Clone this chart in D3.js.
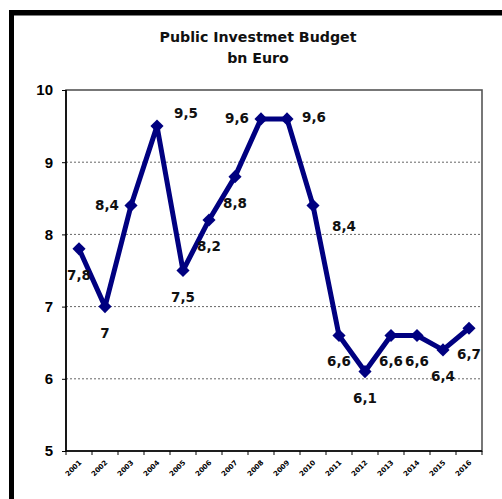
<!DOCTYPE html>
<html>
<head>
<meta charset="utf-8">
<script src="https://cdn.jsdelivr.net/npm/d3@7"></script>
<style>
  body { margin: 0; background: #fff; }
  svg { display: block; font-family: "DejaVu Sans", Verdana, sans-serif; }
  .grid line { stroke: #666; stroke-width: 1; stroke-dasharray: 2,2; }
  .axis text { font-weight: bold; fill: #000; }
  .axis path, .axis line { stroke: #000; }
  .val-label { font-size: 13.5px; font-weight: bold; fill: #111; }
  .title { font-size: 14.2px; font-weight: bold; fill: #111; }
</style>
</head>
<body>
<div id="chart"></div>
<script>
// data
const years = ['2001', '2002', '2003', '2004', '2005', '2006', '2007', '2008',
               '2009', '2010', '2011', '2012', '2013', '2014', '2015', '2016'];
const budget = [7.8, 7, 8.4, 9.5, 7.5, 8.2, 8.8, 9.6, 9.6, 8.4, 6.6, 6.1, 6.6, 6.6, 6.4, 6.7];
const yTicks = [5, 6, 7, 8, 9, 10];
const titleLines = ['Public Investmet Budget', 'bn Euro'];

// where each value label sits relative to its point
const labelSide = ['below', 'below', 'left', 'upright', 'below', 'below', 'below', 'left',
                   'right', 'downright', 'below', 'below', 'below', 'below', 'below', 'below'];
const sideOffset = {
  below: [0, 26], left: [-24, -1], right: [27, -2],
  upright: [29, -13], downright: [31, 20]
};

const width = 502, height = 499;
const margin = {top: 90, right: 20, bottom: 48, left: 66};

const svg = d3.select('#chart').append('svg')
    .attr('width', width)
    .attr('height', height);

// outer frame (only the top and left edges fall inside the picture)
svg.append('rect')
    .attr('x', 9).attr('y', 10)
    .attr('width', 5).attr('height', height)
    .attr('fill', '#000');
svg.append('rect')
    .attr('x', 9).attr('y', 10)
    .attr('width', width).attr('height', 5.5)
    .attr('fill', '#000');

svg.selectAll('.title')
  .data(titleLines)
  .join('text')
    .attr('class', 'title')
    .attr('x', 258)
    .attr('y', (d, i) => 42 + i * 21)
    .attr('text-anchor', 'middle')
    .text(d => d);

const x = d3.scaleBand()
    .domain(years)
    .range([margin.left, width - margin.right])
    .padding(0);

const y = d3.scaleLinear()
    .domain([5, 10])
    .range([height - margin.bottom, margin.top]);

// gridlines
svg.append('g')
    .attr('class', 'grid')
  .selectAll('line')
  .data(yTicks.filter(d => d > 5 && d < 10))
  .join('line')
    .attr('x1', x.range()[0])
    .attr('x2', x.range()[1])
    .attr('y1', d => y(d))
    .attr('y2', d => y(d));

// plot frame
svg.append('rect')
    .attr('x', x.range()[0])
    .attr('y', y(10))
    .attr('width', x.range()[1] - x.range()[0])
    .attr('height', y(5) - y(10))
    .attr('fill', 'none')
    .attr('stroke', '#555')
    .attr('stroke-width', 1.6);
svg.append('line')
    .attr('x1', x.range()[0]).attr('x2', x.range()[0])
    .attr('y1', y(10)).attr('y2', y(5))
    .attr('stroke', '#000').attr('stroke-width', 1.6);
svg.append('line')
    .attr('x1', x.range()[0]).attr('x2', x.range()[1])
    .attr('y1', y(5)).attr('y2', y(5))
    .attr('stroke', '#000').attr('stroke-width', 1.6);

// y axis
const yAxis = svg.append('g')
    .attr('class', 'axis')
    .attr('transform', `translate(${margin.left},0)`)
    .call(d3.axisLeft(y).tickValues(yTicks).tickSize(4).tickPadding(9).tickFormat(d3.format('d')));
yAxis.select('.domain').remove();
yAxis.selectAll('text').style('font-size', '15px');

// x axis: ticks between categories, labels slanted
const xAxis = svg.append('g').attr('class', 'axis');
xAxis.selectAll('line')
  .data(years.concat(['end']))
  .join('line')
    .attr('x1', d => d === 'end' ? x.range()[1] : x(d))
    .attr('x2', d => d === 'end' ? x.range()[1] : x(d))
    .attr('y1', y(5))
    .attr('y2', y(5) + 4);
xAxis.selectAll('text')
  .data(years)
  .join('text')
    .attr('transform', d => `translate(${x(d) + x.bandwidth() / 2 + 3},${y(5) + 12}) rotate(-45)`)
    .attr('text-anchor', 'end')
    .style('font-size', '7px')
    .text(d => d);

// the series
const cx = (d, i) => x(years[i]) + x.bandwidth() / 2;

svg.append('path')
    .datum(budget)
    .attr('fill', 'none')
    .attr('stroke', '#000080')
    .attr('stroke-width', 5)
    .attr('stroke-linejoin', 'round')
    .attr('d', d3.line().x(cx).y(d => y(d)));

svg.selectAll('.marker')
  .data(budget)
  .join('path')
    .attr('class', 'marker')
    .attr('transform', (d, i) => `translate(${cx(d, i)},${y(d)})`)
    .attr('d', d3.symbol(d3.symbolDiamond2, 110))
    .attr('fill', '#000080');

svg.selectAll('.val-label')
  .data(budget)
  .join('text')
    .attr('class', 'val-label')
    .attr('x', (d, i) => cx(d, i) + sideOffset[labelSide[i]][0])
    .attr('y', (d, i) => y(d) + sideOffset[labelSide[i]][1])
    .attr('text-anchor', 'middle')
    .attr('dominant-baseline', 'central')
    .text(d => String(d).replace('.', ','));
</script>
</body>
</html>
